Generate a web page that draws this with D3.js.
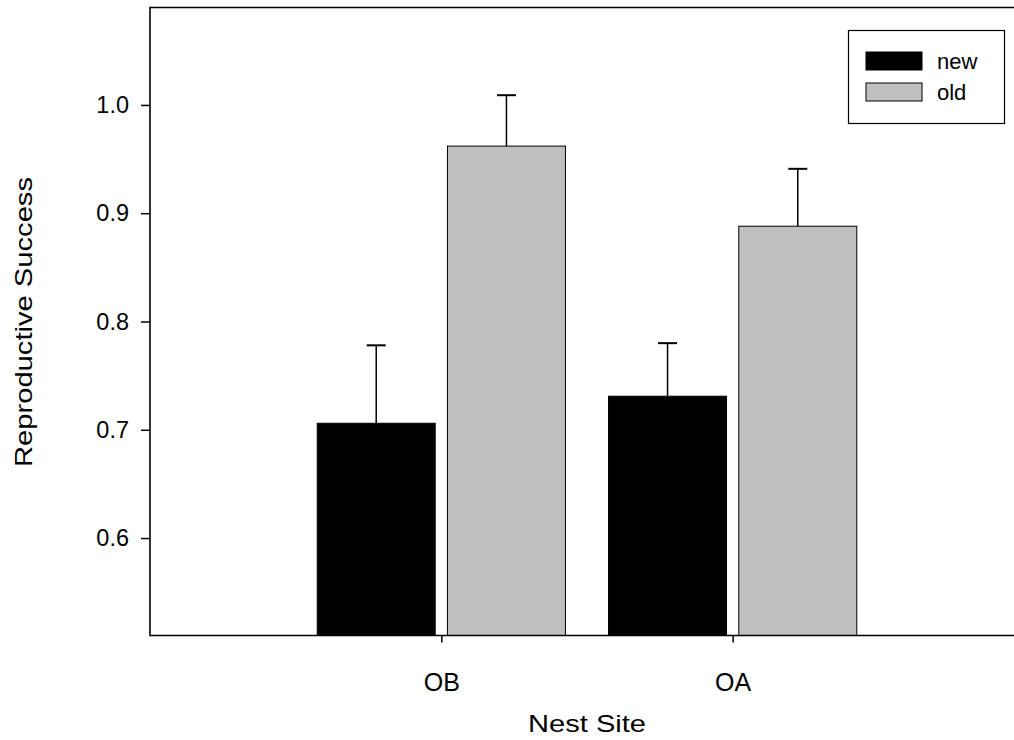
<!DOCTYPE html>
<html>
<head>
<meta charset="utf-8">
<script src="https://cdn.jsdelivr.net/npm/d3@7"></script>
<style>
  html, body { margin: 0; padding: 0; background: #fff; }
  svg { display: block; }
  text { font-family: "Liberation Sans", Arial, sans-serif; fill: #000; }
</style>
</head>
<body>
<svg id="chart" width="1014" height="740"></svg>
<script>
// Nest sites and groups
const sites = ["OB", "OA"];
const groups = ["new", "old"];
// Mean reproductive success per site, one array per group
const newMeans = [0.706, 0.731];
const oldMeans = [0.962, 0.888];
// Upper error (standard error) per site
const newErrors = [0.072, 0.049];
const oldErrors = [0.047, 0.053];
// Y-axis tick values
const yTicks = [0.6, 0.7, 0.8, 0.9, 1.0];

const colors = { new: "#000000", old: "#c0c0c0" };

const svg = d3.select("#chart");
const W = 1014;

const plotLeft = 150, plotBottom = 635.5, plotTop = 7.5;

// x: site positions at 1, 2 on a 0..3 linear axis
const x = d3.scaleLinear().domain([0, 3]).range([plotLeft, 1024]);
const y = d3.scaleLinear().domain([0.51, 1.09]).range([plotBottom, plotTop]);

const barW = 0.405, gap = 0.021;

const rows = [];
sites.forEach((s, i) => {
  rows.push({ site: s, group: "new", value: newMeans[i], err: newErrors[i], x0: (i + 1) - gap - barW, x1: (i + 1) - gap });
  rows.push({ site: s, group: "old", value: oldMeans[i], err: oldErrors[i], x0: (i + 1) + gap, x1: (i + 1) + gap + barW });
});

// Error bars (drawn first so bars sit over the stem base)
const eb = svg.append("g");
rows.forEach(d => {
  const cx = (x(d.x0) + x(d.x1)) / 2;
  eb.append("line")
    .attr("x1", cx).attr("x2", cx)
    .attr("y1", y(d.value)).attr("y2", y(d.value + d.err))
    .attr("stroke", "#000").attr("stroke-width", 1.5);
  eb.append("line")
    .attr("x1", cx - 9.5).attr("x2", cx + 9.5)
    .attr("y1", y(d.value + d.err)).attr("y2", y(d.value + d.err))
    .attr("stroke", "#000").attr("stroke-width", 2);
});

// Bars
svg.append("g").selectAll("rect").data(rows).join("rect")
  .attr("x", d => x(d.x0))
  .attr("width", d => x(d.x1) - x(d.x0))
  .attr("y", d => y(d.value))
  .attr("height", d => y(0.51) - y(d.value))
  .attr("fill", d => colors[d.group])
  .attr("stroke", "#000")
  .attr("stroke-width", 1);

// Frame: top line
svg.append("line")
  .attr("x1", plotLeft).attr("x2", W)
  .attr("y1", plotTop).attr("y2", plotTop)
  .attr("stroke", "#000").attr("stroke-width", 1.5);

// Y axis
const yAxis = svg.append("g")
  .attr("transform", `translate(${plotLeft},0)`)
  .call(d3.axisLeft(y).tickValues(yTicks).tickFormat(d3.format(".1f")).tickSize(9).tickPadding(12));
yAxis.select(".domain").remove();
yAxis.selectAll(".tick line").attr("stroke", "#000").attr("stroke-width", 1.5);
yAxis.selectAll(".tick text").style("font-size", "23.5px").style("font-family", "'Liberation Sans', Arial, sans-serif");
svg.append("line")
  .attr("x1", plotLeft).attr("x2", plotLeft)
  .attr("y1", plotTop - 0.75).attr("y2", plotBottom + 0.75)
  .attr("stroke", "#000").attr("stroke-width", 1.6);

// X axis
const xAxis = svg.append("g")
  .attr("transform", `translate(0,${plotBottom})`)
  .call(d3.axisBottom(x).tickValues([1, 2]).tickFormat((d, i) => sites[i]).tickSize(7).tickPadding(31));
xAxis.select(".domain").remove();
xAxis.selectAll(".tick line").attr("stroke", "#000").attr("stroke-width", 1.5);
xAxis.selectAll(".tick text").style("font-size", "25px").style("font-family", "'Liberation Sans', Arial, sans-serif");
svg.append("line")
  .attr("x1", plotLeft).attr("x2", W)
  .attr("y1", plotBottom).attr("y2", plotBottom)
  .attr("stroke", "#000").attr("stroke-width", 1.6);

// Axis titles
svg.append("text")
  .attr("x", (x(1) + x(2)) / 2).attr("y", 732)
  .attr("text-anchor", "middle")
  .style("font-size", "24px")
  .attr("textLength", 118).attr("lengthAdjust", "spacingAndGlyphs")
  .text("Nest Site");

svg.append("text")
  .attr("transform", `translate(32,${322}) rotate(-90)`)
  .attr("text-anchor", "middle")
  .style("font-size", "24px")
  .attr("textLength", 290).attr("lengthAdjust", "spacingAndGlyphs")
  .text("Reproductive Success");

// Legend
const lg = svg.append("g");
lg.append("rect")
  .attr("x", 848.5).attr("y", 30.5).attr("width", 156).attr("height", 93)
  .attr("fill", "#fff").attr("stroke", "#000").attr("stroke-width", 1.2);
groups.forEach((g, i) => {
  const yy = 52 + i * 31;
  lg.append("rect")
    .attr("x", 866).attr("y", yy).attr("width", 56).attr("height", 18)
    .attr("fill", colors[g]).attr("stroke", "#000").attr("stroke-width", 1);
  lg.append("text")
    .attr("x", 937).attr("y", yy + 16.5)
    .style("font-size", "22px")
    .text(g);
});
</script>
</body>
</html>
